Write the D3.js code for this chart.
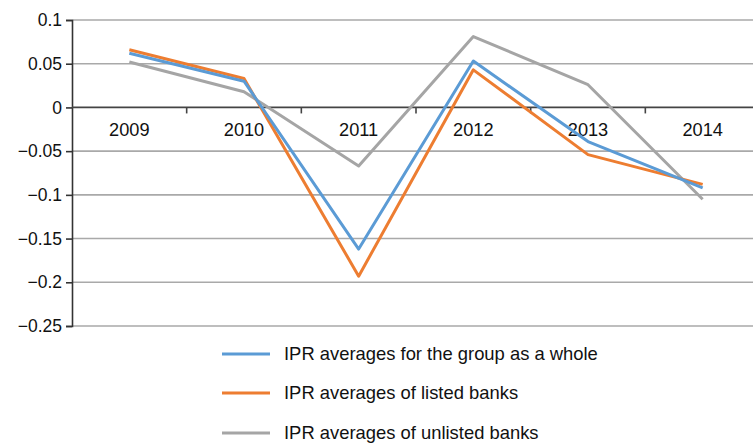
<!DOCTYPE html>
<html>
<head>
<meta charset="utf-8">
<script src="https://cdn.jsdelivr.net/npm/d3@7"></script>
<style>
  html, body { margin: 0; padding: 0; background: #fff; }
  svg { display: block; font-family: "Liberation Sans", Arial, Helvetica, sans-serif; }
</style>
</head>
<body>
<svg id="chart" width="753" height="443"></svg>
<script>
// Years on the category axis
const years = ["2009", "2010", "2011", "2012", "2013", "2014"];

// IPR averages per year
const groupWhole = [0.062, 0.030, -0.162, 0.053, -0.039, -0.092];
const listedBanks = [0.066, 0.033, -0.193, 0.043, -0.054, -0.088];
const unlistedBanks = [0.052, 0.018, -0.067, 0.081, 0.026, -0.105];

// Value axis ticks
const yTicks = [0.1, 0.05, 0, -0.05, -0.1, -0.15, -0.2, -0.25];
const yTickLabels = ["0.1", "0.05", "0", "\u22120.05", "\u22120.1", "\u22120.15", "\u22120.2", "\u22120.25"];

const seriesNames = [
  "IPR averages for the group as a whole",
  "IPR averages of listed banks",
  "IPR averages of unlisted banks"
];
const seriesColors = ["#5b9bd5", "#ed7d31", "#a5a5a5"];
const seriesValues = [groupWhole, listedBanks, unlistedBanks];

const svg = d3.select("#chart");

const x = d3.scaleBand().domain(years).range([72, 760]).padding(0);
const y = d3.scaleLinear().domain([-0.25, 0.1]).range([326, 20]);

// Horizontal gridlines
svg.append("g")
  .selectAll("line")
  .data(yTicks.filter(d => d !== 0))
  .join("line")
  .attr("x1", 72).attr("x2", 760)
  .attr("y1", d => y(d)).attr("y2", d => y(d))
  .attr("stroke", "#a9a9a9")
  .attr("stroke-width", 1.6);

// Value axis
const yAxis = d3.axisLeft(y)
  .tickValues(yTicks)
  .tickFormat((d, i) => yTickLabels[i])
  .tickSize(6)
  .tickPadding(4);
const gy = svg.append("g").attr("transform", "translate(72,0)").call(yAxis);
gy.select(".domain").attr("stroke", "#333").attr("stroke-width", 1.6);
gy.selectAll(".tick line").attr("stroke", "#333").attr("stroke-width", 1.6);
gy.selectAll(".tick text").attr("font-size", 17.5).attr("fill", "#111")
  .attr("font-family", "'Liberation Sans', Arial, sans-serif");

// Category axis along the zero line, ticks between categories
const zeroY = y(0);
svg.append("line")
  .attr("x1", 72).attr("x2", 760)
  .attr("y1", zeroY).attr("y2", zeroY)
  .attr("stroke", "#444").attr("stroke-width", 1.8);
svg.append("g")
  .selectAll("line")
  .data(years.slice(1))
  .join("line")
  .attr("x1", d => x(d)).attr("x2", d => x(d))
  .attr("y1", zeroY).attr("y2", zeroY + 6)
  .attr("stroke", "#444").attr("stroke-width", 1.6);
svg.append("g")
  .selectAll("text")
  .data(years)
  .join("text")
  .attr("x", d => x(d) + x.bandwidth() / 2)
  .attr("y", zeroY + 29)
  .attr("text-anchor", "middle")
  .attr("font-size", 18.2)
  .attr("fill", "#111")
  .text(d => d);

// Series lines
const line = d3.line()
  .x((d, i) => x(years[i]) + x.bandwidth() / 2)
  .y(d => y(d));

svg.append("g")
  .selectAll("path")
  .data(seriesValues.map((v, i) => ({ v, i })).reverse())
  .join("path")
  .attr("d", d => line(d.v))
  .attr("fill", "none")
  .attr("stroke", d => seriesColors[d.i])
  .attr("stroke-width", 3)
  .attr("stroke-linejoin", "round");

// Legend
const legend = svg.append("g");
const legendY = [354, 393, 433];
seriesNames.forEach((name, i) => {
  legend.append("line")
    .attr("x1", 222).attr("x2", 270)
    .attr("y1", legendY[i]).attr("y2", legendY[i])
    .attr("stroke", seriesColors[i])
    .attr("stroke-width", 3);
  legend.append("text")
    .attr("x", 284)
    .attr("y", legendY[i] + 6)
    .attr("font-size", 18.4)
    .attr("fill", "#111")
    .text(name);
});
</script>
</body>
</html>
